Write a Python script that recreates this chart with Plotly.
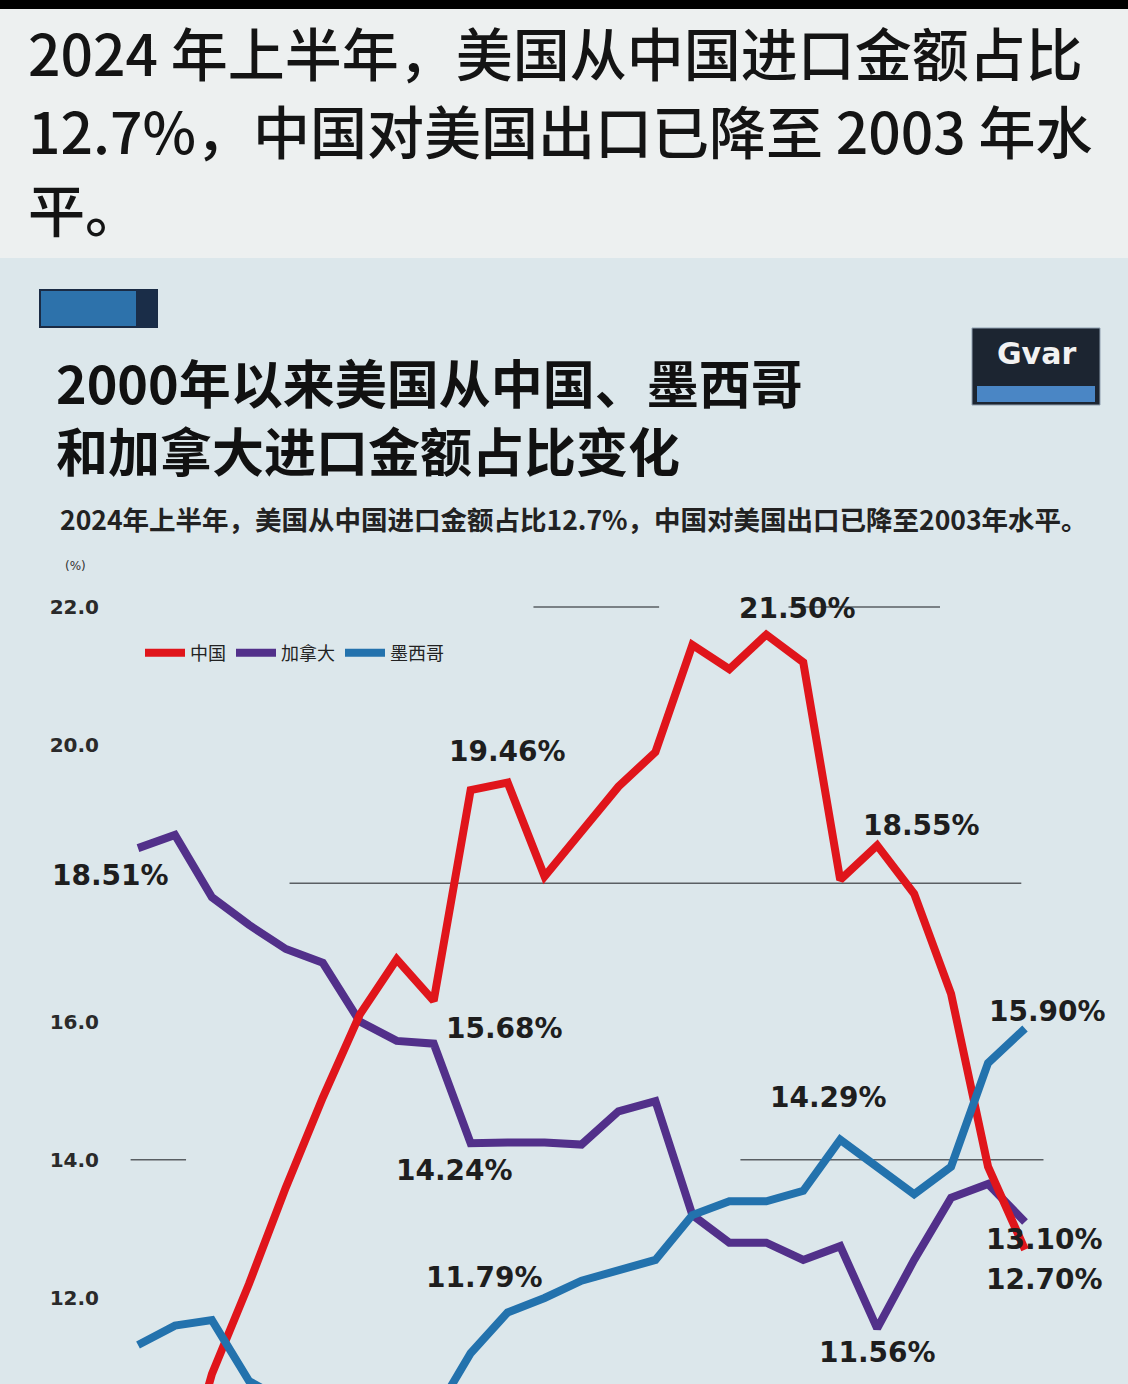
import plotly.graph_objects as go

# ---------------- data ----------------
years = list(range(2000, 2025))  # 2024 = 上半年
china = [8.2, 9.0, 10.9, 12.2, 13.6, 14.9, 16.1, 16.9, 16.3, 19.35, 19.46, 18.1, 18.75,
         19.4, 19.9, 21.45, 21.1, 21.6, 21.2, 18.05, 18.55, 17.85, 16.4, 13.9, 12.7]
canada = [18.51, 18.7, 17.8, 17.4, 17.05, 16.85, 16.0, 15.72, 15.68, 14.24, 14.25, 14.25, 14.22,
          14.7, 14.85, 13.2, 12.8, 12.8, 12.55, 12.75, 11.56, 12.55, 13.45, 13.65, 13.10]
mexico = [11.32, 11.6, 11.68, 10.8, 10.5, 10.2, 10.5, 10.5, 10.3, 11.2, 11.79, 12.0, 12.25,
          12.4, 12.55, 13.2, 13.4, 13.4, 13.55, 14.29, 13.9, 13.5, 13.9, 15.4, 15.90]
series_names = ["中国", "加拿大", "墨西哥"]
ytick_vals = [12, 14, 16, 20, 22]
ytick_text = ["12.0", "14.0", "16.0", "20.0", "22.0"]

# labelled points: (series, year, text, xshift, yshift)
point_labels = [
    ("canada", 2000, "18.51%", -28, -27),
    ("china", 2010, "19.46%", 0, 31),
    ("china", 2017, "21.50%", 31, 26),
    ("china", 2020, "18.55%", 44, 20),
    ("canada", 2008, "15.68%", 71, 15),
    ("canada", 2009, "14.24%", -16, -27),
    ("mexico", 2019, "14.29%", -12, 42),
    ("mexico", 2024, "15.90%", 22, 17),
    ("mexico", 2010, "11.79%", -23, 35),
    ("canada", 2020, "11.56%", 0, -24),
    ("canada", 2024, "13.10%", 19, -18),
    ("china", 2024, "12.70%", 19, -30),
]

header_lines = ["2024 年上半年，美国从中国进口金额占比",
                "12.7%，中国对美国出口已降至 2003 年水",
                "平。"]
chart_title = ["2000年以来美国从中国、墨西哥", "和加拿大进口金额占比变化"]
subtitle = "2024年上半年，美国从中国进口金额占比12.7%，中国对美国出口已降至2003年水平。"

# ---------------- layout helpers ----------------
W, H = 1128, 1384
ML, MR, MT, MB = 110, 0, 580, 0
PW, PH = W - ML - MR, H - MT - MB


def px(x):
    return (x - ML) / PW


def py(y):
    return (H - MB - y) / PH


CJK = "Noto Sans CJK SC"
RED, PURPLE, BLUE = "#e0151b", "#52308a", "#2372ad"

fig = go.Figure()
data = {"china": china, "canada": canada, "mexico": mexico}
fig.add_trace(go.Scatter(x=years, y=canada, name=series_names[1], mode="lines",
                         line=dict(color=PURPLE, width=8), legendrank=2))
fig.add_trace(go.Scatter(x=years, y=china, name=series_names[0], mode="lines",
                         line=dict(color=RED, width=8), legendrank=1))
fig.add_trace(go.Scatter(x=years, y=mexico, name=series_names[2], mode="lines",
                         line=dict(color=BLUE, width=8), legendrank=3))

annotations = []
for ser, yr, txt, xs, ys in point_labels:
    annotations.append(dict(x=yr, y=data[ser][years.index(yr)], xref="x", yref="y", text=txt,
                            showarrow=False, xshift=xs, yshift=ys,
                            font=dict(family="DejaVu Sans", size=28, color="#1e1e1e", weight="bold")))

# header text
for i, line in enumerate(header_lines):
    annotations.append(dict(x=px(26), y=py(51 + 78 * i), xref="paper", yref="paper", text=line,
                            showarrow=False, xanchor="left", yanchor="middle",
                            font=dict(family=CJK, size=57, color="#141414", weight=500)))
annotations.append(dict(x=px(54), y=py(416), xref="paper", yref="paper",
                        text="<br>".join(chart_title),
                        showarrow=False, xanchor="left", yanchor="middle", align="left",
                        font=dict(family=CJK, size=52, color="#111111", weight="bold")))
annotations.append(dict(x=px(58), y=py(518), xref="paper", yref="paper", text=subtitle,
                        showarrow=False, xanchor="left", yanchor="middle",
                        font=dict(family=CJK, size=26.5, color="#222222", weight="bold")))
annotations.append(dict(x=px(75), y=py(566), xref="paper", yref="paper", text="(%)",
                        showarrow=False, xanchor="center", yanchor="middle",
                        font=dict(family="DejaVu Sans", size=12, color="#333333")))
annotations.append(dict(x=px(1036), y=py(354), xref="paper", yref="paper", text="Gvar",
                        showarrow=False, xanchor="center", yanchor="middle",
                        font=dict(family="DejaVu Sans", size=30, color="#f2f2f2", weight="bold")))

shapes = [
    dict(type="rect", xref="paper", yref="paper", x0=px(0), x1=px(W), y0=py(258), y1=py(9),
         fillcolor="#edf0f0", line=dict(width=0), layer="below"),
    dict(type="rect", xref="paper", yref="paper", x0=px(0), x1=px(W), y0=py(9), y1=py(0),
         fillcolor="#000000", line=dict(width=0), layer="below"),
    dict(type="rect", xref="paper", yref="paper", x0=px(40), x1=px(157), y0=py(327), y1=py(290),
         fillcolor="#2d72ab", line=dict(color="#1a2b44", width=2), layer="below"),
    dict(type="rect", xref="paper", yref="paper", x0=px(136), x1=px(157), y0=py(327), y1=py(290),
         fillcolor="#1a2d48", line=dict(width=0), layer="below"),
    dict(type="rect", xref="paper", yref="paper", x0=px(972), x1=px(1100), y0=py(405), y1=py(328),
         fillcolor="#1c2531", line=dict(color="#8fa0b0", width=1), layer="below"),
    dict(type="rect", xref="paper", yref="paper", x0=px(977), x1=px(1095), y0=py(402), y1=py(386),
         fillcolor="#4a86c5", line=dict(width=0), layer="below"),
]
# partial gridlines (year spans) at 22, 18, 14
grid_segments = [(22, 2010.7, 2014.1), (22, 2017.6, 2021.7), (18, 2004.1, 2023.9),
                 (14, 1999.8, 2001.3), (14, 2016.3, 2024.5)]
for gy, gx0, gx1 in grid_segments:
    shapes.append(dict(type="line", xref="x", yref="y", x0=gx0, x1=gx1, y0=gy, y1=gy,
                       line=dict(color="#5a5f63", width=1.5), layer="below"))

fig.update_layout(
    width=W, height=H,
    margin=dict(l=ML, r=MR, t=MT, b=MB, pad=0),
    paper_bgcolor="#dce7eb", plot_bgcolor="rgba(0,0,0,0)",
    showlegend=True,
    legend=dict(orientation="h", x=px(140), y=py(653), xanchor="left", yanchor="middle",
                bgcolor="rgba(0,0,0,0)", font=dict(family=CJK, size=18, color="#222222"),
                itemwidth=40, traceorder="normal"),
    xaxis=dict(visible=False, range=[1999.242, 2026.787], fixedrange=True),
    yaxis=dict(range=[10.755, 22.39], tickvals=ytick_vals, ticktext=ytick_text,
               showgrid=False, zeroline=False, showline=False, ticks="",
               ticklabelstandoff=10,
               tickfont=dict(family="DejaVu Sans", size=20, color="#2a2a2a", weight="bold")),
    annotations=annotations,
    shapes=shapes,
)

fig.write_html("out.html", config={"displayModeBar": False},
               post_script="document.body.style.margin='0';document.body.style.overflow='hidden';")
